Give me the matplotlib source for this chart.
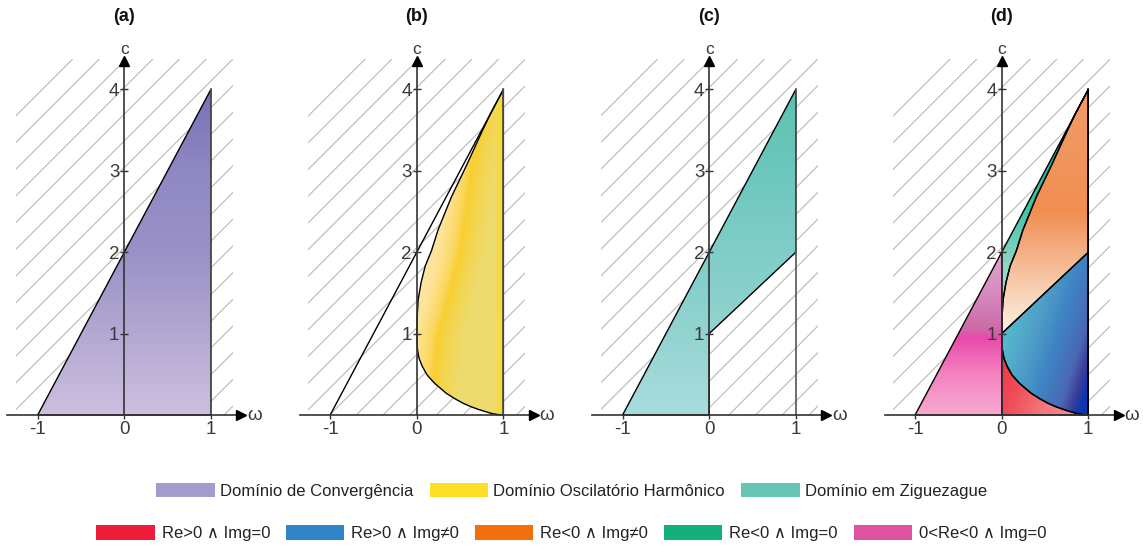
import numpy as np
import matplotlib
matplotlib.use("Agg")
import matplotlib.pyplot as plt
from matplotlib.patches import Polygon, Rectangle, Patch
from matplotlib.collections import LineCollection
from matplotlib.colors import to_rgb

plt.rcParams["font.family"] = ["Liberation Sans", "DejaVu Sans"]
plt.rcParams["axes.unicode_minus"] = False

# ---------------------------------------------------------------- data
panel_titles = ["(a)", "(b)", "(c)", "(d)"]
omega_ticks = [-1, 0, 1]
c_ticks = [1, 2, 3, 4]

# convergence triangle: below c = 2(w + 1), for -1 <= w <= 1
conv_omega = [-1.0, 1.0, 1.0]
conv_c = [0.0, 4.0, 0.0]
conv_intercept = 2.0          # value of the convergence line at w = 0

# zigzag lower boundary c = w + 1, for 0 <= w <= 1
zig_omega = [0.0, 1.0]
zig_c = [1.0, 2.0]

# oscillatory boundary, upper branch (from (0,1) up to (1,4))
upper_omega = [0.0, 0.004, 0.016, 0.05, 0.097, 0.17, 0.244, 0.32, 0.40,
               0.49, 0.58, 0.67, 0.76, 0.85, 0.93, 1.0]
upper_c = [1.0, 1.21, 1.42, 1.63, 1.83, 2.02, 2.27, 2.47, 2.68,
           2.88, 3.08, 3.29, 3.50, 3.70, 3.86, 4.0]
# oscillatory boundary, lower branch (from (0,1) down to (1,0))
lower_omega = [0.0, 0.002, 0.008, 0.025, 0.062, 0.12, 0.205, 0.34, 0.44,
               0.535, 0.63, 0.73, 0.86, 0.93, 1.0]
lower_c = [1.0, 0.90, 0.80, 0.70, 0.60, 0.49, 0.39, 0.267, 0.20,
           0.144, 0.10, 0.062, 0.02, 0.006, 0.0]

domain_labels = ["Domínio de Convergência", "Domínio Oscilatório Harmônico",
                 "Domínio em Ziguezague"]
domain_colors = ["#a49ccc", "#fde026", "#66c5b4"]
root_labels = ["Re>0 ∧ Img=0", "Re>0 ∧ Img≠0", "Re<0 ∧ Img≠0",
               "Re<0 ∧ Img=0", "0<Re<0 ∧ Img=0"]
root_colors = ["#ec1c3a", "#2f86c6", "#f36f0a", "#13b07c", "#de52a0"]

# ---------------------------------------------------------------- layout
W_PX, H_PX = 1143, 547
X_UNIT, Y_UNIT = 86.6, 81.4        # pixels per unit of w and c
ORIGIN_Y = 415.0
ORIGINS_X = [124.3, 416.8, 709.2, 1001.7]
XLIM = (-1.42, 1.58)
YLIM = (-0.45, 4.75)

AXIS_COL = "#333333"
TEXT_COL = "#3a3a3a"

fig = plt.figure(figsize=(W_PX / 100, H_PX / 100), dpi=100)


def ramp(stops):
    pos = [p for p, _ in stops]
    cols = np.array([to_rgb(h) for _, h in stops])

    def f(t):
        t = np.asarray(t, dtype=float)
        out = np.empty(t.shape + (3,))
        for k in range(3):
            out[..., k] = np.interp(t, pos, cols[:, k])
        return out
    return f


def blend(a, b, t):
    t = np.clip(t, 0, 1)[..., None]
    return a * (1 - t) + b * t


def shade(ax, verts, colour_fn, edge="black", lw=1.0):
    clip = Polygon(verts, closed=True, facecolor="none", edgecolor="none")
    ax.add_patch(clip)
    ws = np.linspace(-1.05, 1.05, 420)
    cs = np.linspace(-0.05, 4.05, 620)
    Wg, Cg = np.meshgrid(ws, cs)
    img = ax.imshow(colour_fn(Wg, Cg), extent=[ws[0], ws[-1], cs[0], cs[-1]],
                    origin="lower", aspect="auto", interpolation="bilinear",
                    zorder=1.6)
    img.set_clip_path(clip)
    if edge is not None:
        ax.add_patch(Polygon(verts, closed=True, facecolor="none",
                             edgecolor=edge, lw=lw, zorder=2.0,
                             joinstyle="round"))


def hatch(ax):
    box = Rectangle((-1.255, -0.27), 2.51, 4.64, facecolor="none",
                    edgecolor="none")
    ax.add_patch(box)
    slope = X_UNIT / Y_UNIT          # gives 45 degree lines on screen
    step = 26.7 / X_UNIT
    segs = []
    for b in np.arange(-4.09 - 2 * step, 1.6, step):
        segs.append([(b, 0.0), (b + 6.0, slope * 6.0)])
    lines = LineCollection(segs, colors="#b9b9b9", linewidths=0.8,
                           zorder=1.0)
    ax.add_collection(lines)
    lines.set_clip_path(box)


up = list(zip(upper_omega, upper_c))
lo = list(zip(lower_omega, lower_c))
conv_poly = list(zip(conv_omega, conv_c))

# colour fields for every region
purple = ramp([(0.0, "#cdbfdf"), (1.0, "#b3a8d2"), (2.0, "#9a91c6"),
               (3.0, "#8f88c2"), (4.0, "#7770b6")])
teal_c = ramp([(0.0, "#a9dddd"), (1.0, "#93d3d0"), (2.0, "#80cdc8"),
               (3.0, "#6cc7bc"), (4.0, "#5dc2b0")])


def yellow(Wg, Cg):
    centre = np.interp(Cg, [0, 0.5, 1, 1.5, 2, 2.5, 3, 3.5, 4],
                       [0.15, 0.2, 0.25, 0.38, 0.5, 0.57, 0.63, 0.72, 0.8])
    u = Wg - centre
    base = ramp([(-0.6, "#fde9aa"), (-0.25, "#fde49a"), (-0.08, "#fbd862"),
                 (0.0, "#f9cf30"), (0.12, "#f3d650"), (0.3, "#eedb6e"),
                 (1.0, "#eedc6c")])(u)
    edge = np.array(to_rgb("#f8dd22"))
    return blend(base, edge, (Wg - 0.9) / 0.09)


def pink(Wg, Cg):
    return ramp([(0.0, "#f8aad2"), (0.5, "#f482be"), (0.95, "#e84aac"),
                 (1.05, "#cc6aa8"), (1.5, "#d78bbf"), (2.0, "#dea8ce")])(Cg)


def teal_d(Wg, Cg):
    return ramp([(1.0, "#c8e9e2"), (1.5, "#a8ddd3"), (2.0, "#80d1c1"),
                 (2.5, "#40c4a9"), (3.0, "#28c0a3"), (4.0, "#22bca0")])(Cg)


def orange(Wg, Cg):
    return ramp([(1.0, "#fcf0e8"), (1.5, "#f8d3b6"), (2.0, "#f4b086"),
                 (2.5, "#f08e4f"), (3.0, "#f0945b"), (4.0, "#f29c68")])(Cg)


def blue(Wg, Cg):
    t = Wg * 0.85 + (1.0 - Cg) * 0.25
    return ramp([(0.0, "#55bccb"), (0.3, "#4fa0c8"), (0.55, "#3f84c4"),
                 (0.8, "#4a68b4"), (0.92, "#3a3c98"), (1.0, "#1036b0"),
                 (1.2, "#0030b8")])(t)


def red(Wg, Cg):
    t = Wg * 0.8 + (1.0 - Cg) * 0.3
    return ramp([(0.0, "#ea3242"), (0.3, "#f04854"), (0.7, "#f47b80"),
                 (1.1, "#f69494")])(t)


for i, title in enumerate(panel_titles):
    ox = ORIGINS_X[i]
    left = (ox + XLIM[0] * X_UNIT) / W_PX
    width = (XLIM[1] - XLIM[0]) * X_UNIT / W_PX
    bottom = (H_PX - (ORIGIN_Y - YLIM[0] * Y_UNIT)) / H_PX
    height = (YLIM[1] - YLIM[0]) * Y_UNIT / H_PX
    ax = fig.add_axes([left, bottom, width, height])
    ax.set_facecolor("none")
    hatch(ax)

    if i == 0:
        shade(ax, conv_poly, lambda Wg, Cg: purple(Cg))
        ax.plot([1, 1], [0, 4], color="#555555", lw=1.2, zorder=2.1)
    elif i == 1:
        shade(ax, up + lo[::-1], yellow)
        ax.plot(conv_omega[:2], conv_c[:2], color="black", lw=1.0, zorder=2.0)
        ax.plot([1, 1], [0, 4], color="#555555", lw=1.2, zorder=2.1)
    elif i == 2:
        zig_poly = [conv_poly[0], conv_poly[1], (zig_omega[1], zig_c[1]),
                    (zig_omega[0], zig_c[0]), (0.0, 0.0)]
        shade(ax, zig_poly, lambda Wg, Cg: teal_c(Cg))
        ax.plot([1, 1], [0, 4], color="#555555", lw=1.2, zorder=2.1)
    else:
        shade(ax, [conv_poly[0], (0.0, conv_intercept), (0.0, 0.0)], pink)
        shade(ax, lo + [(0.0, 0.0)], red)
        shade(ax, [(zig_omega[0], zig_c[0]), (zig_omega[1], zig_c[1])]
              + lo[::-1], blue)
        shade(ax, up + [(zig_omega[1], zig_c[1])], orange)
        shade(ax, [(0.0, conv_intercept), conv_poly[1]] + up[::-1], teal_d)
        ax.plot([1, 1], [0, 4], color="black", lw=1.1, zorder=2.1)

    # axes through the origin with arrow heads
    for side in ("top", "right"):
        ax.spines[side].set_visible(False)
    ax.spines["left"].set_position(("data", 0))
    ax.spines["bottom"].set_position(("data", 0))
    ax.spines["left"].set_bounds(0, 4.3)
    ax.spines["bottom"].set_bounds(-1.35, 1.32)
    for side in ("left", "bottom"):
        ax.spines[side].set_color(AXIS_COL)
        ax.spines[side].set_linewidth(1.2)
        ax.spines[side].set_zorder(3)
    ax.set_axisbelow(False)
    ax.plot(1.35, 0, marker=">", ms=7, color="black", clip_on=False,
            zorder=4)
    ax.plot(0, 4.35, marker="^", ms=7, color="black", clip_on=False,
            zorder=4)

    ax.set_xticks(omega_ticks)
    ax.set_yticks(c_ticks)
    ax.tick_params(axis="y", direction="inout", length=6, width=1.0,
                   pad=0.5, labelsize=13.5, color=AXIS_COL,
                   labelcolor=TEXT_COL)
    ax.tick_params(axis="x", direction="out", length=3, width=1.0,
                   pad=1.2, labelsize=13.5, color=AXIS_COL,
                   labelcolor=TEXT_COL)

    ax.text(0, 4.49, "c", ha="center", va="center", fontsize=12.5,
            color=TEXT_COL, clip_on=False)
    ax.text(1.5, 0.0, "ω", ha="center", va="center", fontsize=13.5,
            color=TEXT_COL, clip_on=False)
    ax.text(0, 4.89, title, ha="center", va="center", fontsize=13,
            fontweight="bold", color="#111111", clip_on=False)

    ax.set_xlim(*XLIM)
    ax.set_ylim(*YLIM)

# legends
h1 = [Patch(facecolor=c, edgecolor="none", label=l)
      for l, c in zip(domain_labels, domain_colors)]
h2 = [Patch(facecolor=c, edgecolor="none", label=l)
      for l, c in zip(root_labels, root_colors)]
common = dict(loc="center", frameon=False, fontsize=12, handlelength=3.5,
              borderpad=0, borderaxespad=0, labelcolor="#222222")
fig.legend(handles=h1, bbox_to_anchor=(0.5, 1 - 491 / H_PX), ncol=3,
           handleheight=0.95, handletextpad=0.3, columnspacing=1.0, **common)
fig.legend(handles=h2, bbox_to_anchor=(0.5, 1 - 533 / H_PX), ncol=5,
           handleheight=1.05, handletextpad=0.42, columnspacing=0.95,
           **common)

fig.savefig("out.png", dpi=100)
